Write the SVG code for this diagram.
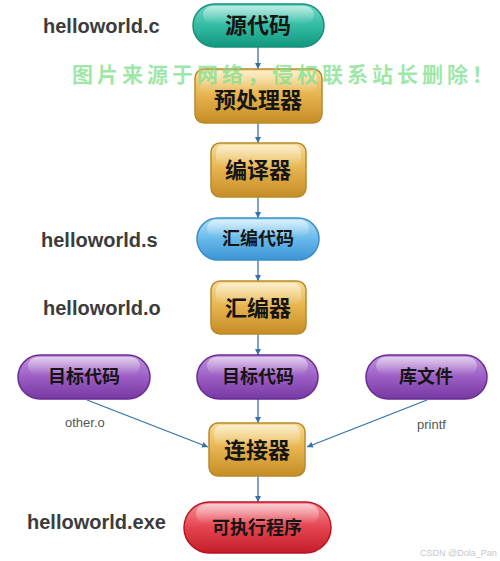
<svg xmlns="http://www.w3.org/2000/svg" width="500" height="561" viewBox="0 0 500 561">
<defs>
<linearGradient id="gGold" x1="0" y1="0" x2="0" y2="1">
<stop offset="0" stop-color="#f8dc92"/><stop offset="0.45" stop-color="#e8b652"/><stop offset="1" stop-color="#c68c24"/>
</linearGradient>
<linearGradient id="gTeal" x1="0" y1="0" x2="0" y2="1">
<stop offset="0" stop-color="#6fd8c4"/><stop offset="0.5" stop-color="#34bca4"/><stop offset="1" stop-color="#13977f"/>
</linearGradient>
<linearGradient id="gBlue" x1="0" y1="0" x2="0" y2="1">
<stop offset="0" stop-color="#b2e1f8"/><stop offset="0.5" stop-color="#68b9ea"/><stop offset="1" stop-color="#3b95d4"/>
</linearGradient>
<linearGradient id="gPurple" x1="0" y1="0" x2="0" y2="1">
<stop offset="0" stop-color="#c095dc"/><stop offset="0.5" stop-color="#9c5ec4"/><stop offset="1" stop-color="#7638a2"/>
</linearGradient>
<linearGradient id="gRed" x1="0" y1="0" x2="0" y2="1">
<stop offset="0" stop-color="#f5909a"/><stop offset="0.5" stop-color="#e4444f"/><stop offset="1" stop-color="#c21c2a"/>
</linearGradient>
<linearGradient id="gShine" x1="0" y1="0" x2="0" y2="1">
<stop offset="0" stop-color="#ffffff" stop-opacity="0.55"/><stop offset="1" stop-color="#ffffff" stop-opacity="0"/>
</linearGradient>
<marker id="arr" viewBox="0 0 10 10" refX="10" refY="5" markerWidth="6" markerHeight="6" orient="auto" markerUnits="userSpaceOnUse">
<path d="M0,0 L10,5 L0,10 z" fill="#3373aa"/>
</marker>
<style>
.lbl{font-family:"Liberation Sans",Arial,sans-serif;font-weight:bold;font-size:20px;fill:#3c3c3c}
.sm{font-family:"Liberation Sans",Arial,sans-serif;font-size:13px;fill:#555}
.cn{font-family:"Noto Sans CJK SC",sans-serif;font-weight:bold;fill:#151515;text-anchor:middle}
.big{font-size:22px}
.mid{font-size:18px}
.gold{fill:url(#gGold);stroke:#b88a2e;stroke-width:1.5}
.teal{fill:url(#gTeal);stroke:#16907b;stroke-width:1.5}
.blue{fill:url(#gBlue);stroke:#3a8fc8;stroke-width:1.5}
.purple{fill:url(#gPurple);stroke:#6a2c92;stroke-width:1.5}
.red{fill:url(#gRed);stroke:#bd1220;stroke-width:1.5}
.shine{fill:url(#gShine)}
.con line{stroke:#3373aa;stroke-width:1.3;marker-end:url(#arr)}
</style>
</defs>
<rect width="500" height="561" fill="#ffffff"/>

<g class="con" id="connectors">
<line x1="258" y1="47" x2="258" y2="69"/>
<line x1="258" y1="123" x2="258" y2="143"/>
<line x1="258" y1="197" x2="258" y2="218"/>
<line x1="258" y1="260" x2="258" y2="281"/>
<line x1="258" y1="334" x2="258" y2="355"/>
<line x1="258" y1="399" x2="258" y2="423"/>
<line x1="87" y1="400" x2="208" y2="447"/>
<line x1="427" y1="400" x2="307" y2="447"/>
<line x1="258" y1="476" x2="258" y2="502"/>
</g>

<g id="n_src">
<rect class="teal" x="193" y="4" width="131" height="43" rx="21.5"/>
<rect class="shine" x="203" y="6" width="111" height="18" rx="9"/>
<text class="cn big" x="258" y="33">源代码</text>
</g>
<g id="n_pre">
<rect class="gold" x="195" y="69" width="127" height="54" rx="9"/>
<rect class="shine" x="200" y="71" width="117" height="22" rx="7"/>
<text class="cn big" x="258" y="108">预处理器</text>
</g>
<g id="n_comp">
<rect class="gold" x="211" y="143" width="95" height="54" rx="9"/>
<rect class="shine" x="216" y="145" width="85" height="22" rx="7"/>
<text class="cn big" x="258" y="178">编译器</text>
</g>
<g id="n_asmcode">
<rect class="blue" x="197" y="218" width="122" height="42" rx="21"/>
<rect class="shine" x="207" y="220" width="102" height="17" rx="8.5"/>
<text class="cn mid" x="258" y="245">汇编代码</text>
</g>
<g id="n_asm">
<rect class="gold" x="211" y="281" width="95" height="53" rx="9"/>
<rect class="shine" x="216" y="283" width="85" height="22" rx="7"/>
<text class="cn big" x="258" y="316">汇编器</text>
</g>
<g id="n_objL">
<rect class="purple" x="18" y="355" width="132" height="44" rx="22"/>
<rect class="shine" x="28" y="357" width="112" height="18" rx="9"/>
<text class="cn mid" x="84" y="383">目标代码</text>
</g>
<g id="n_objM">
<rect class="purple" x="197" y="355" width="121" height="44" rx="22"/>
<rect class="shine" x="207" y="357" width="101" height="18" rx="9"/>
<text class="cn mid" x="258" y="383">目标代码</text>
</g>
<g id="n_lib">
<rect class="purple" x="366" y="355" width="121" height="44" rx="22"/>
<rect class="shine" x="376" y="357" width="101" height="18" rx="9"/>
<text class="cn mid" x="426" y="383">库文件</text>
</g>
<g id="n_link">
<rect class="gold" x="209" y="423" width="96" height="53" rx="9"/>
<rect class="shine" x="214" y="425" width="86" height="22" rx="7"/>
<text class="cn big" x="257" y="458">连接器</text>
</g>
<g id="n_exe">
<rect class="red" x="184" y="502" width="147" height="51" rx="25.5"/>
<rect class="shine" x="196" y="504" width="123" height="20" rx="10"/>
<text class="cn mid" x="257" y="534">可执行程序</text>
</g>

<g id="labels">
<text class="lbl" x="43" y="33">helloworld.c</text>
<text class="lbl" x="41" y="247">helloworld.s</text>
<text class="lbl" x="43" y="315">helloworld.o</text>
<text class="lbl" x="27" y="529">helloworld.exe</text>
<text class="sm" x="65" y="427">other.o</text>
<text class="sm" x="417" y="429">printf</text>
<text x="420" y="556" style="font-family:'Liberation Sans',Arial,sans-serif;font-size:9px;fill:#c8c8c8">CSDN @Dola_Pan</text>
</g>

<text x="72" y="82" textLength="421" lengthAdjust="spacing" style="font-family:'Noto Sans CJK SC',sans-serif;font-weight:bold;font-size:21px;fill:#7ee08a;fill-opacity:0.75">图片来源于网络，侵权联系站长删除！</text>
</svg>
